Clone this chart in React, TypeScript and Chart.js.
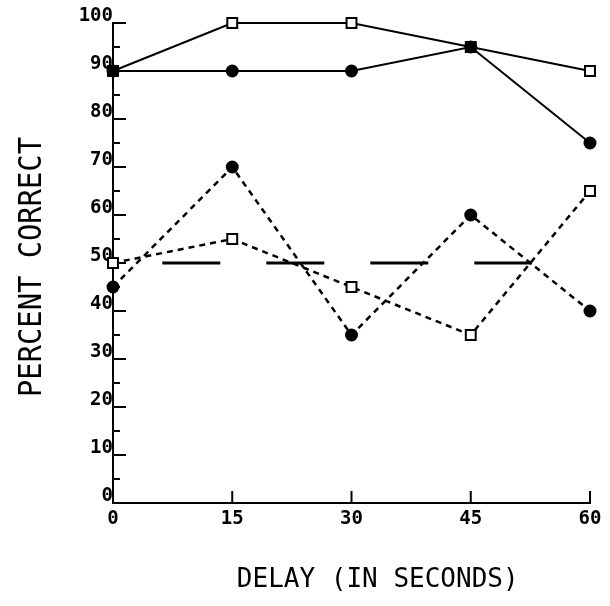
import React, { useEffect, useRef } from "react";
import { Chart, registerables } from "chart.js";

Chart.register(...registerables);

const delays = [0, 15, 30, 45, 60];
const solidSquares = [90, 100, 100, 95, 90];
const solidCircles = [90, 90, 90, 95, 75];
const dottedCircles = [45, 70, 35, 60, 40];
const dottedSquares = [50, 55, 45, 35, 65];
const chanceX = [6.2, 52.7];
const chanceY = [50, 50];
const xTitle = "DELAY (IN SECONDS)";
const yTitle = "PERCENT CORRECT";

const toPts = (xs: number[], ys: number[]) => xs.map((x, i) => ({ x, y: ys[i] }));

const tickFont = { family: "'DejaVu Sans Mono', monospace", size: 19, weight: "bold" as const };

const innerTicks = {
  id: "innerTicks",
  beforeDatasetsDraw(chart: any) {
    const ctx = chart.ctx;
    const xs = chart.scales.x;
    const ys = chart.scales.y;
    const x0 = xs.getPixelForValue(0);
    const y0 = ys.getPixelForValue(0);
    ctx.save();
    ctx.strokeStyle = "#000";
    ctx.lineWidth = 2;
    for (let v = 5; v <= 100; v += 5) {
      const py = ys.getPixelForValue(v);
      const len = v % 10 === 0 ? 13 : 7;
      ctx.beginPath();
      ctx.moveTo(x0, py);
      ctx.lineTo(x0 + len, py);
      ctx.stroke();
    }
    for (let v = 15; v <= 60; v += 15) {
      const px = xs.getPixelForValue(v);
      ctx.beginPath();
      ctx.moveTo(px, y0);
      ctx.lineTo(px, y0 - 12);
      ctx.stroke();
    }
    ctx.restore();
  },
  afterDraw(chart: any) {
    const ctx = chart.ctx;
    const area = chart.chartArea;
    ctx.save();
    ctx.fillStyle = "#000";
    ctx.textAlign = "center";
    ctx.textBaseline = "middle";
    ctx.font = "26px 'DejaVu Sans Mono', monospace";
    ctx.save();
    ctx.translate(area.left + (area.right - area.left) * 0.555, 580);
    ctx.fillText(xTitle, 0, 0);
    ctx.restore();
    ctx.save();
    ctx.translate(33, (area.top + area.bottom) / 2 + 4);
    ctx.rotate(-Math.PI / 2);
    ctx.scale(0.9, 1.0);
    ctx.font = "32px 'DejaVu Sans Mono', monospace";
    ctx.fillText(yTitle, 0, 0);
    ctx.restore();
    ctx.restore();
  },
};

export default function App() {
  const ref = useRef<HTMLCanvasElement | null>(null);
  useEffect(() => {
    if (!ref.current) return;
    const solid = { borderColor: "#000", borderWidth: 2, showLine: true, clip: false as const };
    const dotted = { borderColor: "#000", borderWidth: 2.5, borderDash: [6, 5], showLine: true, clip: false as const };
    const squares = {
      pointStyle: "rect" as const,
      pointRadius: 7,
      pointBorderWidth: 2,
      pointBackgroundColor: "#fff",
      pointBorderColor: "#000",
    };
    const circles = {
      pointStyle: "circle" as const,
      pointRadius: 6.5,
      pointBorderWidth: 0,
      pointBackgroundColor: "#000",
      pointBorderColor: "#000",
    };
    const chart = new Chart(ref.current, {
      type: "scatter",
      data: {
        datasets: [
          { label: "chance", data: toPts(chanceX, chanceY), borderColor: "#000", borderWidth: 3, borderDash: [58, 46], showLine: true, pointRadius: 0, clip: false as const, order: 5 },
          { label: "dotted squares", data: toPts(delays, dottedSquares), ...dotted, ...squares, order: 4 },
          { label: "dotted circles", data: toPts(delays, dottedCircles), ...dotted, ...circles, order: 3 },
          { label: "solid squares", data: toPts(delays, solidSquares), ...solid, ...squares, order: 2 },
          { label: "solid circles", data: toPts(delays, solidCircles), ...solid, ...circles, order: 1 },
        ],
      },
      options: {
        animation: false,
        responsive: false,
        devicePixelRatio: 1,
        layout: { padding: { top: 23, right: 20, left: 0, bottom: 0 } },
        plugins: { legend: { display: false }, tooltip: { enabled: false } },
        scales: {
          x: {
            type: "linear",
            min: 0,
            max: 60,
            afterFit: (s: any) => { s.height = 103; },
            ticks: { stepSize: 15, color: "#000", font: tickFont, padding: 5, maxRotation: 0 },
            grid: { drawOnChartArea: false, drawTicks: false },
            border: { display: true, color: "#000", width: 2 },
          },
          y: {
            type: "linear",
            min: 0,
            max: 100,
            afterFit: (s: any) => { s.width = 113; },
            ticks: { stepSize: 10, color: "#000", font: tickFont, padding: 0, labelOffset: -7 },
            grid: { drawOnChartArea: false, drawTicks: false },
            border: { display: true, color: "#000", width: 2 },
          },
        },
      },
      plugins: [innerTicks],
    });
    return () => chart.destroy();
  }, []);
  return (
    <div style={{ position: "fixed", left: 0, top: 0, width: 610, height: 606, background: "#fff" }}>
      <canvas ref={ref} width={610} height={606} style={{ display: "block" }} />
    </div>
  );
}
